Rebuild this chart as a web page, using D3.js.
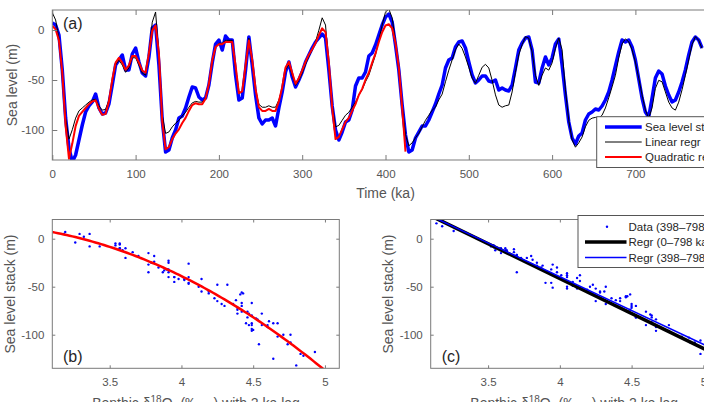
<!DOCTYPE html>
<html>
<head>
<meta charset="utf-8">
<script src="https://cdn.jsdelivr.net/npm/d3@7"></script>
<style>
body { margin: 0; background: #fff; }
svg { display: block; font-family: "Liberation Sans", Arial, Helvetica, sans-serif; }
</style>
</head>
<body>
<svg id="fig" width="704" height="402"></svg>
<script>
// sampling grid of the stack (ka), one value every 4 ka
var timeKa = d3.range(0, 781, 4);

// sea level stack (m)
var seaLevel = [
    7, 5, -5, -40, -88, -118, -132, -125, -110, -95,
    -82, -76, -72, -64, -78, -84, -83, -74, -55, -35,
    -30, -25, -40, -40, -24, -18, -32, -43, -46, -27,
    2, 5, -35, -90, -122, -120, -108, -100, -88, -86,
    -78, -67, -57, -58, -67, -70, -68, -55, -33, -14,
    -10, -20, -6, -10, -10, -45, -70, -68, -40, -7,
    -35, -65, -88, -94, -90, -90, -88, -96, -78, -62,
    -42, -32, -47, -57, -50, -42, -32, -25, -18, -12,
    -8, -4, -8, -40, -76, -100, -110, -102, -92, -90,
    -80, -56, -48, -48, -42, -26, -23, -15, -5, 5,
    13, 16, 8, -15, -40, -75, -105, -122, -120, -108,
    -102, -96, -96, -90, -82, -74, -64, -55, -38, -30,
    -28, -17, -12, -11, -18, -32, -45, -53, -50, -46,
    -46, -51, -52, -50, -60, -58, -60, -61, -55, -38,
    -20, -13, -8, -7, -20, -52, -53, -38, -27, -35,
    -28, -14, -9, -35, -65, -92, -108, -114, -106, -103,
    -90, -84, -82, -79, -80, -76, -70, -62, -50, -36,
    -22, -10, -12, -10, -17, -30, -49, -68, -82, -87,
    -68, -48, -41, -44, -56, -65, -72, -70, -62, -52,
    -40, -25, -12, -7, -10, -18
];

// benthic d18O (permil) with 2 ka lag, same grid
var benthic = [
    3.19, 3.29, 3.54, 4.05, 4.64, 4.93, 4.80, 4.64, 4.54, 4.50,
    4.46, 4.42, 4.39, 4.38, 4.47, 4.53, 4.52, 4.39, 4.14, 3.91,
    3.84, 3.91, 4.01, 3.95, 3.81, 3.81, 3.91, 4.02, 4.05, 3.77,
    3.32, 3.18, 3.77, 4.60, 4.85, 4.83, 4.76, 4.71, 4.67, 4.61,
    4.56, 4.49, 4.43, 4.41, 4.42, 4.42, 4.36, 4.19, 3.88, 3.66,
    3.61, 3.61, 3.57, 3.57, 3.57, 3.95, 4.30, 4.28, 3.95, 3.54,
    3.87, 4.25, 4.45, 4.49, 4.49, 4.47, 4.49, 4.49, 4.39, 4.23,
    3.98, 3.90, 4.05, 4.19, 4.12, 4.02, 3.90, 3.79, 3.70, 3.59,
    3.43, 3.26, 3.36, 3.91, 4.46, 4.76, 4.74, 4.67, 4.60, 4.56,
    4.49, 4.42, 4.32, 4.25, 4.14, 4.05, 3.91, 3.77, 3.57, 3.36,
    3.18, 3.14, 3.26, 3.59, 3.98, 4.46, 4.87, 5.02, 4.98, 4.91,
    4.85, 4.76, 4.67, 4.60, 4.53, 4.49, 4.39, 4.31, 4.14, 3.98,
    3.84, 3.70, 3.62, 3.68, 3.80, 3.94, 4.09, 4.16, 4.05, 3.94,
    3.90, 3.95, 4.12, 4.32, 4.46, 4.49, 4.47, 4.46, 4.28, 4.01,
    3.77, 3.63, 3.52, 3.54, 3.73, 4.05, 4.19, 4.05, 3.95, 3.98,
    3.88, 3.68, 3.54, 3.70, 4.25, 4.67, 4.94, 5.04, 4.98, 4.90,
    4.76, 4.67, 4.64, 4.63, 4.64, 4.60, 4.50, 4.36, 4.21, 4.05,
    3.81, 3.62, 3.55, 3.59, 3.70, 3.87, 4.09, 4.32, 4.53, 4.64,
    4.50, 4.23, 4.12, 4.14, 4.28, 4.42, 4.50, 4.53, 4.42, 4.25,
    4.05, 3.84, 3.63, 3.52, 3.57, 3.68
];

// regression coefficients (sea level = c0 + c1*d + c2*d^2)
var linAll = [249.2, -72.7];          // 0-798 ka
var linLate = [242.0, -70.4];         // 398-798 ka
var quadEarly = [-143.1, 125.43, -24.85];
var quadEndKa = 424;                  // red curve shown up to here
var splitKa = 398;

var timeTicks = [0, 100, 200, 300, 400, 500, 600, 700, 800];
var slTicks = [-100, -50, 0];
var d18Ticks = [3.5, 4, 4.5, 5];

var blue = "#0000ff", red = "#ff0000";
var frameCol = "#7a7a7a", tickText = "#555555", labelText = "#555555";

function lin(c, d) { return c[0] + c[1] * d; }
function quad(c, d) { return c[0] + c[1] * d + c[2] * d * d; }

var svg = d3.select("#fig");
var defs = svg.append("defs");

function drawAxes(g, x, y, xt, yt, len) {
    var xr = x.range(), yr = y.range();
    var fmt = function (d) { return String(d); };
    g.append("g").attr("transform", "translate(0," + yr[0] + ")")
        .call(d3.axisBottom(x).tickValues(xt).tickFormat(fmt)
            .tickSizeInner(-len).tickSizeOuter(0).tickPadding(10));
    g.append("g").attr("transform", "translate(0," + yr[1] + ")")
        .call(d3.axisTop(x).tickValues(xt).tickFormat("")
            .tickSizeInner(-len).tickSizeOuter(0));
    g.append("g").attr("transform", "translate(" + xr[0] + ",0)")
        .call(d3.axisLeft(y).tickValues(yt).tickFormat(fmt)
            .tickSizeInner(-len).tickSizeOuter(0).tickPadding(8));
    g.append("g").attr("transform", "translate(" + xr[1] + ",0)")
        .call(d3.axisRight(y).tickValues(yt).tickFormat("")
            .tickSizeInner(-len).tickSizeOuter(0));
    g.selectAll(".domain").remove();
    g.selectAll(".tick line").attr("stroke", frameCol);
    g.selectAll(".tick text").attr("fill", tickText)
        .attr("font-size", "11.5px")
        .attr("font-family", "Liberation Sans, Arial, sans-serif");
    g.append("rect")
        .attr("x", xr[0]).attr("y", yr[1])
        .attr("width", xr[1] - xr[0]).attr("height", yr[0] - yr[1])
        .attr("fill", "none").attr("stroke", frameCol);
}

function clipFor(id, x, y) {
    var xr = x.range(), yr = y.range();
    defs.append("clipPath").attr("id", id).append("rect")
        .attr("x", xr[0]).attr("y", yr[1])
        .attr("width", xr[1] - xr[0]).attr("height", yr[0] - yr[1]);
    return "url(#" + id + ")";
}

function yLabel(txt, x, y) {
    svg.append("text")
        .attr("transform", "translate(" + x + "," + y + ") rotate(-90)")
        .attr("text-anchor", "middle").attr("font-size", "14px")
        .attr("fill", labelText).text(txt);
}

function panelTag(txt, x, y) {
    svg.append("text").attr("x", x).attr("y", y)
        .attr("font-size", "16px").attr("fill", "#262626").text(txt);
}

var rows = timeKa.map(function (t, i) {
    return { t: t, sl: seaLevel[i], d: benthic[i] };
});

// ---------- panel (a) ----------
var xa = d3.scaleLinear().domain([0, 800]).range([52.3, 718.7]);
var ya = d3.scaleLinear().domain([-130, 20]).range([160, 10]);
var ga = svg.append("g");
var clipA = clipFor("clipA", xa, ya);
var plotA = ga.append("g").attr("clip-path", clipA);

plotA.append("path").datum(rows)
    .attr("fill", "none").attr("stroke", blue).attr("stroke-width", 3.5)
    .attr("stroke-linejoin", "round")
    .attr("d", d3.line().x(function (d) { return xa(d.t); }).y(function (d) { return ya(d.sl); }));
plotA.append("path").datum(rows)
    .attr("fill", "none").attr("stroke", "#000").attr("stroke-width", 1)
    .attr("d", d3.line().x(function (d) { return xa(d.t); }).y(function (d) { return ya(lin(linAll, d.d)); }));
plotA.append("path").datum(rows.filter(function (d) { return d.t <= quadEndKa; }))
    .attr("fill", "none").attr("stroke", red).attr("stroke-width", 2)
    .attr("stroke-linejoin", "round")
    .attr("d", d3.line().x(function (d) { return xa(d.t); }).y(function (d) { return ya(quad(quadEarly, d.d)); }));

drawAxes(ga, xa, ya, timeTicks, slTicks, 5);
panelTag("(a)", 63, 28.5);
yLabel("Sea level (m)", 17, 85);
svg.append("text").attr("x", 385.5).attr("y", 198).attr("text-anchor", "middle")
    .attr("font-size", "14px").attr("fill", labelText).text("Time (ka)");

// legend (a)
var legA = [
    { name: "Sea level stack", col: blue, w: 3.5 },
    { name: "Linear regr", col: "#000", w: 1 },
    { name: "Quadratic regr", col: red, w: 2 }
];
svg.append("rect").attr("x", 596.7).attr("y", 116.7).attr("width", 140).attr("height", 50.8)
    .attr("fill", "#fff").attr("stroke", "#555");
legA.forEach(function (e, i) {
    var yy = 127 + i * 15;
    svg.append("line").attr("x1", 605).attr("x2", 641.7).attr("y1", yy).attr("y2", yy)
        .attr("stroke", e.col).attr("stroke-width", e.w);
    svg.append("text").attr("x", 645).attr("y", yy).attr("dy", "0.35em")
        .attr("font-size", "11.5px").attr("fill", "#262626").text(e.name);
});

// ---------- panels (b) and (c) ----------
var yb = d3.scaleLinear().domain([-135, 20]).range([368.3, 219.5]);
var xb = d3.scaleLinear().domain([3.1, 5.1]).range([52.3, 339.3]);
var xc = d3.scaleLinear().domain([3.1, 5.1]).range([430.7, 717.7]);
var curveX = d3.range(3.1, 5.101, 0.02);

var gb = svg.append("g");
var plotB = gb.append("g").attr("clip-path", clipFor("clipB", xb, yb));
plotB.selectAll("circle").data(rows.filter(function (d) { return d.t < splitKa; }))
    .enter().append("circle")
    .attr("cx", function (d) { return xb(d.d); })
    .attr("cy", function (d) { return yb(d.sl); })
    .attr("r", 1.2).attr("fill", blue);
plotB.append("path").datum(curveX)
    .attr("fill", "none").attr("stroke", red).attr("stroke-width", 2.5)
    .attr("d", d3.line().x(function (d) { return xb(d); }).y(function (d) { return yb(quad(quadEarly, d)); }));
drawAxes(gb, xb, yb, d18Ticks, slTicks, 3);
panelTag("(b)", 63, 361.5);
yLabel("Sea level stack (m)", 15, 294);

var gc = svg.append("g");
var plotC = gc.append("g").attr("clip-path", clipFor("clipC", xc, yb));
plotC.selectAll("circle").data(rows.filter(function (d) { return d.t >= splitKa; }))
    .enter().append("circle")
    .attr("cx", function (d) { return xc(d.d); })
    .attr("cy", function (d) { return yb(d.sl); })
    .attr("r", 1.2).attr("fill", blue);
plotC.append("path").datum(xc.domain())
    .attr("fill", "none").attr("stroke", "#000").attr("stroke-width", 3.5)
    .attr("d", d3.line().x(function (d) { return xc(d); }).y(function (d) { return yb(lin(linAll, d)); }));
plotC.append("path").datum(xc.domain())
    .attr("fill", "none").attr("stroke", blue).attr("stroke-width", 1.5)
    .attr("d", d3.line().x(function (d) { return xc(d); }).y(function (d) { return yb(lin(linLate, d)); }));
drawAxes(gc, xc, yb, d18Ticks, slTicks, 3);
panelTag("(c)", 441.7, 361.5);
yLabel("Sea level stack (m)", 393.3, 294);

// x labels of (b) and (c), cut by the bottom edge
[196, 574.2].forEach(function (cx) {
    var t = svg.append("text").attr("x", cx).attr("y", 408).attr("text-anchor", "middle")
        .attr("font-size", "14px").attr("fill", labelText);
    t.append("tspan").text("Benthic \u03b4");
    t.append("tspan").attr("dy", -5).attr("font-size", "10px").text("18");
    t.append("tspan").attr("dy", 5).text("O");
    t.append("tspan").attr("dy", 4).attr("font-size", "8px").text("c");
    t.append("tspan").attr("dy", -4).text(" (\u2030");
    t.append("tspan").attr("dy", 4).attr("font-size", "7px").text("PDB");
    t.append("tspan").attr("dy", -4).text(") with 2 ka lag");
});

// legend (c)
svg.append("rect").attr("x", 578).attr("y", 215.5).attr("width", 140).attr("height", 52)
    .attr("fill", "#fff").attr("stroke", "#555");
var legC = [
    { name: "Data (398\u2013798 ka)", col: blue, w: 0 },
    { name: "Regr (0\u2013798 ka)", col: "#000", w: 3.5 },
    { name: "Regr (398\u2013798 ka)", col: blue, w: 1.5 }
];
legC.forEach(function (e, i) {
    var yy = 226.7 + i * 15.4;
    if (e.w === 0) {
        svg.append("circle").attr("cx", 607).attr("cy", yy).attr("r", 1.2).attr("fill", e.col);
    } else {
        svg.append("line").attr("x1", 585).attr("x2", 626.5).attr("y1", yy).attr("y2", yy)
            .attr("stroke", e.col).attr("stroke-width", e.w);
    }
    svg.append("text").attr("x", 628.5).attr("y", yy).attr("dy", "0.35em")
        .attr("font-size", "11.5px").attr("fill", "#262626").text(e.name);
});
</script>
</body>
</html>
